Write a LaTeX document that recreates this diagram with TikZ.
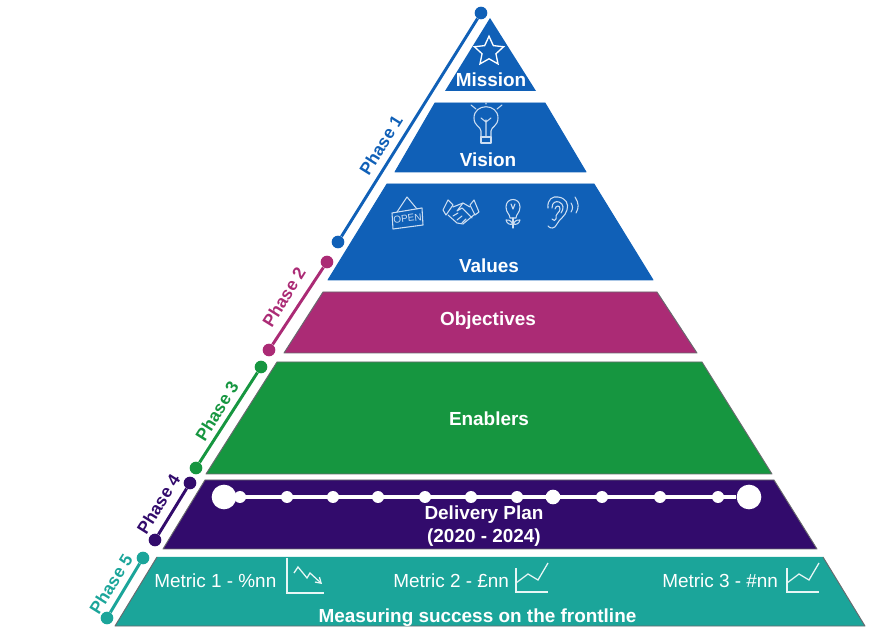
\documentclass[tikz,border=0pt]{standalone}
\usepackage{fontspec}
\setmainfont{Liberation Sans}
\usetikzlibrary{arrows.meta,positioning,calc,shapes.geometric}
\definecolor{phaseBlue}{RGB}{16,96,183}
\definecolor{phaseMag}{RGB}{171,43,117}
\definecolor{phaseGreen}{RGB}{22,150,64}
\definecolor{phasePurple}{RGB}{50,11,108}
\definecolor{phaseTeal}{RGB}{27,165,154}
\definecolor{edgeGray}{RGB}{105,105,110}
\definecolor{iconPale}{RGB}{205,222,242}

\begin{document}
\begin{tikzpicture}[
  x=0.75pt, y=-0.75pt,
  band/.style={draw=edgeGray, line width=0.7pt, line join=round},
  title/.style={font=\fontsize{14.2}{17.2}\selectfont\bfseries, text=white, align=center, inner sep=0pt, anchor=base},
  metric/.style={font=\fontsize{14.2}{17}\selectfont, text=white, anchor=base west, inner sep=0pt},
  phaselab/.style={font=\fontsize{13}{16}\selectfont\bfseries, rotate=58, inner sep=0pt},
  enddot/.style={circle, fill, inner sep=0pt, minimum size=9.5pt},
  phaseln/.style={line width=2.2pt},
  icn/.style={draw=iconPale, line width=0.8pt, line join=round, line cap=round},
  tickdot/.style={circle, fill=white, inner sep=0pt, minimum size=9pt},
  bigdot/.style={circle, fill=white, inner sep=0pt, minimum size=18.5pt},
  chartln/.style={draw=white!90!phaseTeal, line width=0.95pt}
]
  \useasboundingbox (0,0) rectangle (886,634);

  % pyramid bands, top to bottom
  \fill[phaseBlue] (490,18) -- (536,91) -- (445,91) -- cycle;
  \filldraw[band, fill=phaseBlue, draw=phaseBlue] (435,103) -- (545,103) -- (586,172) -- (395,172) -- cycle;
  \filldraw[band, fill=phaseBlue, draw=phaseBlue] (387,184) -- (594,184) -- (653,280) -- (328,280) -- cycle;
  \filldraw[band, fill=phaseMag] (323,292) -- (657,292) -- (697,353) -- (284,353) -- cycle;
  \filldraw[band, fill=phaseGreen] (277,362) -- (702,362) -- (772,474) -- (206,474) -- cycle;
  \filldraw[band, fill=phasePurple] (205,480) -- (774,480) -- (817,549) -- (163,549) -- cycle;
  \fill[phaseTeal] (157,557) -- (823,557) -- (865,626) -- (115,626) -- cycle;
  \draw[band] (157,557) -- (115,626) -- (865,626) -- (823,557);

  % band titles
  \node[title] (mission) at (491,87) {Mission};
  \node[title] (vision) at (488,167) {Vision};
  \node[title] (values) at (489,273) {Values};
  \node[title] (objectives) at (488,326) {Objectives};
  \node[title] (enablers) at (489,426) {Enablers};
  \node[title] (deliverya) at (484,519.5) {Delivery Plan};
  \node[title] (deliveryb) at (484,542.5) {(2020 - 2024)};
  \node[title] (measuring) at (477.5,622.5) {Measuring success on the frontline};

  % phase rails
  \foreach \nm/\col/\ax/\ay/\bx/\by/\lx/\ly/\txt in {
    one/phaseBlue/481/13/338/242/381/145/Phase 1,
    two/phaseMag/327/262/269/350/284/297/Phase 2,
    three/phaseGreen/261/367/196/468/217/411/Phase 3,
    four/phasePurple/190/483/155/540/158.5/504/Phase 4,
    five/phaseTeal/143/558/107/618/111/584/Phase 5}{
    \node[enddot, text=\col, fill=\col] (\nm a) at (\ax,\ay) {};
    \node[enddot, text=\col, fill=\col] (\nm b) at (\bx,\by) {};
    \draw[phaseln, \col] (\nm a) -- (\nm b);
    \node[phaselab, text=\col] (\nm lab) at (\lx,\ly) {\txt};
  }

  % delivery timeline
  \node[bigdot] (tlstart) at (224,497) {};
  \node[bigdot] (tlend) at (749,497) {};
  \draw[white, line width=3.6pt] (tlstart) -- (tlend);
  \foreach \tx [count=\ti] in {240,287,333,378,425,471,517,602,660,718}
    \node[tickdot] (tick\ti) at (\tx,497) {};
  \node[tickdot, minimum size=11pt] (tickmid) at (553,497) {};

  % metrics
  \node[metric] (metric1) at (154,587.5) {Metric 1 - \%nn};
  \node[metric] (metric2) at (393,587.5) {Metric 2 - £nn};
  \node[metric] (metric3) at (662,587.5) {Metric 3 - \#nn};

  % chart icons
  \draw[chartln] (287,558) -- (287,593) -- (324,593);
  \draw[chartln, -{Straight Barb[length=4pt,width=5pt]}] (294,573) -- (298,567) -- (307,578) -- (310,573) -- (322,584);
  \foreach \cx in {516,787}{
    \draw[chartln] (\cx,568) -- (\cx,592) -- (\cx+32,592);
    \draw[chartln] (\cx,583) -- (\cx+12,574) -- (\cx+22,580) -- (\cx+32,563);
  }

  % star
  \node[star, star points=5, star point ratio=2.1, draw=white, line width=1pt, minimum size=23pt, inner sep=0pt] (staricon) at (489,51.5) {};

  % bulb
  \draw[icn] (481,131) .. controls (481,127) and (474,126) .. (474,118) .. controls (474,103) and (498,103) .. (498,118) .. controls (498,126) and (491,127) .. (491,131) -- (491,137) -- (481,137) -- cycle;
  \draw[icn] (481,137) rectangle (491,143);
  \draw[icn] (486,136) -- (486,120) (481,118) -- (486,122) -- (491,118);
  \draw[icn] (471,105) -- (476,109) (502,105) -- (497,109) (486,103) -- (486,104);

  % open sign
  \draw[icn] (392,213) -- (422,208) -- (423,225) -- (393,229) -- cycle;
  \draw[icn] (397,212) -- (407,197) -- (417,209);
  \node[font=\fontsize{7.5}{8}\selectfont, text=iconPale, rotate=7, inner sep=0pt] (opentxt) at (407.5,218.5) {OPEN};

  % handshake
  \draw[icn] (443,210) -- (448,200) -- (453,205) -- (446,215) -- cycle;
  \draw[icn] (470,205) -- (474,200) -- (479,212) -- (475,215) -- cycle;
  \draw[icn] (453,207) -- (463,203) -- (470,207);
  \draw[icn] (448,215) -- (457,223) -- (463,224) -- (475,214);
  \draw[icn] (463,203) -- (457,211) -- (462,208) -- (472,218);
  \draw[icn] (453,216) -- (458,213) (457,220) -- (462,216) (462,223) -- (466,219);

  % flower
  \draw[icn] (510,218) .. controls (510,214) and (506,213) .. (506,207) .. controls (506,197) and (520,197) .. (520,207) .. controls (520,213) and (516,214) .. (516,218) -- cycle;
  \draw[icn] (513,218) -- (513,228);
  \draw[icn] (513,224) .. controls (510,219) and (507,220) .. (506,220) .. controls (507,224) and (510,225) .. (513,224);
  \draw[icn] (513,224) .. controls (516,219) and (519,220) .. (520,220) .. controls (519,224) and (516,225) .. (513,224);
  \draw[icn] (511,204) -- (513,209) -- (515,204);

  % ear
  \draw[icn] (548,208) .. controls (547,199) and (553,196) .. (558,197) .. controls (566,198) and (569,204) .. (567,210) .. controls (565,217) and (560,218) .. (557,224) .. controls (555,229) and (550,229) .. (548,226);
  \draw[icn] (552,208) .. controls (552,202) and (556,201) .. (559,202) .. controls (564,204) and (564,209) .. (561,213);
  \draw[icn] (555,209) .. controls (556,205) and (560,205) .. (560,209) .. controls (560,213) and (555,213) .. (556,219) .. controls (556,221) and (553,221) .. (552,219);
  \draw[icn] (571,203) .. controls (573,206) and (573,209) .. (571,212);
  \draw[icn] (575,197) .. controls (579,203) and (579,208) .. (576,213);
\end{tikzpicture}
\end{document}
